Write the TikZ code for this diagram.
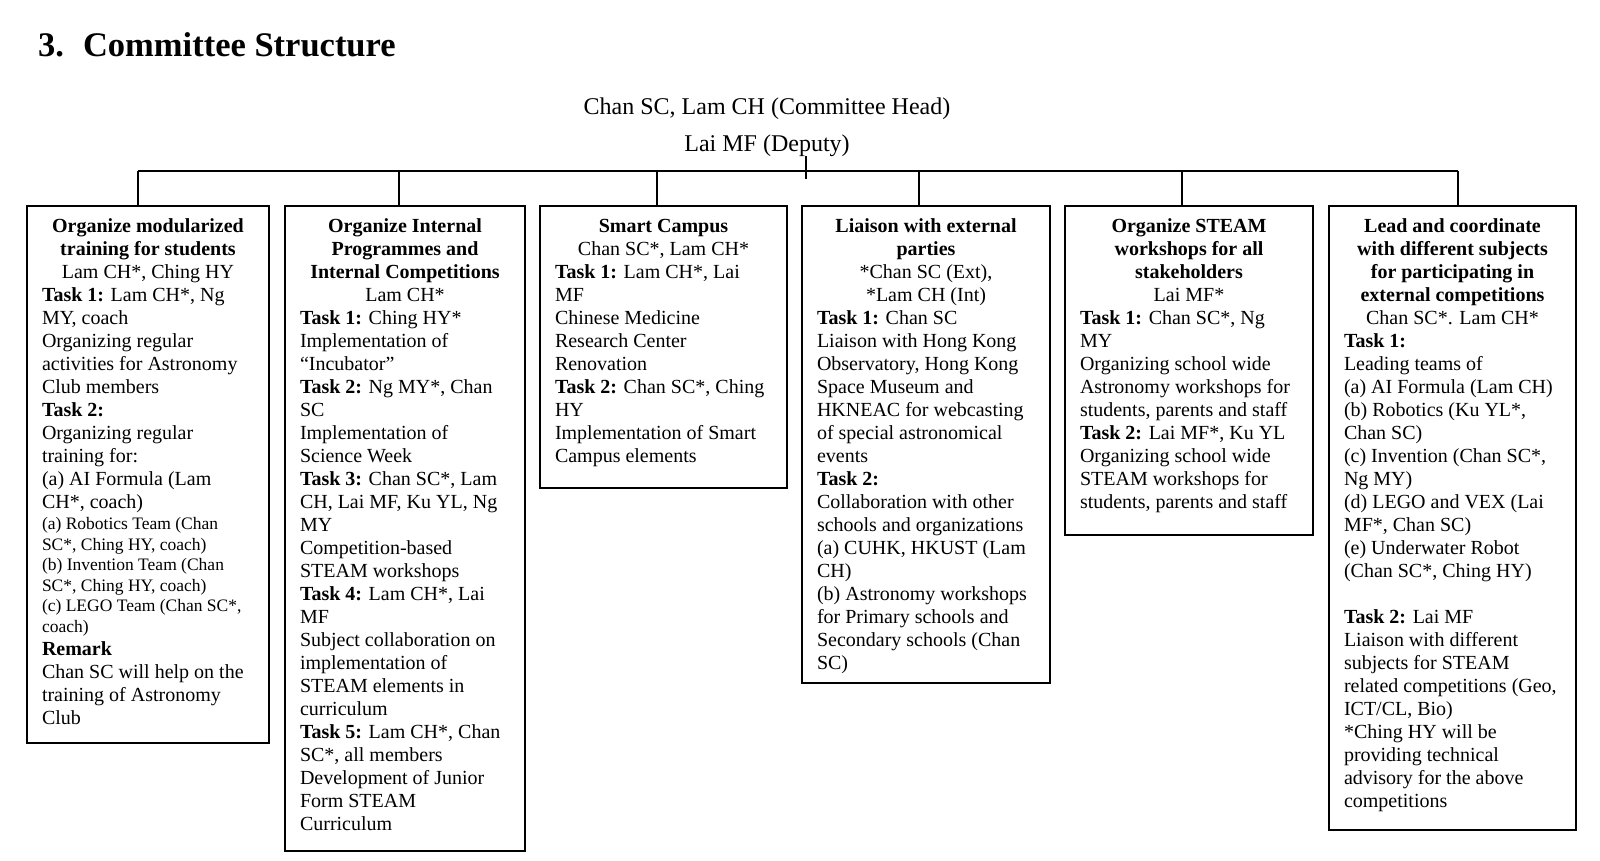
\documentclass[tikz,border=0pt]{standalone}
\usepackage{fontspec}
\setmainfont{Liberation Serif}
\newcommand{\bodysize}{\fontsize{20}{23}\selectfont}
\newcommand{\smallsize}{\fontsize{17.5}{20.6}\selectfont}
\newcommand{\tk}[1]{\textbf{Task #1:}}
\tikzset{
  orgbox/.style={draw, line width=1.1pt, inner xsep=15pt, inner ysep=13pt, outer sep=0pt, anchor=north west, font=\bodysize},
  link/.style={line width=1.1pt},
}
\newcommand{\orgnode}[6]{%
  \node[orgbox] (#1) at (#2,#3) {\parbox[t][\dimexpr#5pt-26pt\relax][t]{\dimexpr#4pt-30pt\relax}{#6}};}
\begin{document}
\begin{tikzpicture}[x=1pt,y=-1pt]
\useasboundingbox (0,0) rectangle (1600,860);

\node[anchor=base west, inner sep=0pt, font=\fontsize{34.5}{40}\selectfont\bfseries] (title) at (38,56) {3.\hspace{19pt}Committee Structure};

\node[anchor=base, inner sep=0pt, font=\fontsize{24}{28}\selectfont] (head) at (767,114) {Chan SC, Lam CH (Committee Head)};
\node[anchor=base, inner sep=0pt, font=\fontsize{24}{28}\selectfont] (deputy) at (767,151) {Lai MF (Deputy)};

\orgnode{b1}{27}{206}{242}{537}{%
\centering\textbf{Organize modularized\\training for students}\par
Lam CH*, Ching HY\par
\raggedright
\tk{1} Lam CH*, Ng\\
MY, coach\\
Organizing regular\\
activities for Astronomy\\
Club members\\
\tk{2}\\
Organizing regular\\
training for:\\
(a) AI Formula (Lam\\
CH*, coach)\par
{\smallsize (a) Robotics Team (Chan\\
SC*, Ching HY, coach)\\
(b) Invention Team (Chan\\
SC*, Ching HY, coach)\\
(c) LEGO Team (Chan SC*,\\
coach)\par}
\textbf{Remark}\\
Chan SC will help on the\\
training of Astronomy\\
Club\par}

\orgnode{b2}{285}{206}{240}{645}{%
\centering\textbf{Organize Internal\\Programmes and\\Internal Competitions}\par
Lam CH*\par
\raggedright
\tk{1} Ching HY*\\
Implementation of\\
“Incubator”\\
\tk{2} Ng MY*, Chan\\
SC\\
Implementation of\\
Science Week\\
\tk{3} Chan SC*, Lam\\
CH, Lai MF, Ku YL, Ng\\
MY\\
Competition-based\\
STEAM workshops\\
\tk{4} Lam CH*, Lai\\
MF\\
Subject collaboration on\\
implementation of\\
STEAM elements in\\
curriculum\\
\tk{5} Lam CH*, Chan\\
SC*, all members\\
Development of Junior\\
Form STEAM\\
Curriculum\par}

\orgnode{b3}{540}{206}{247}{282}{%
\centering\textbf{Smart Campus}\par
Chan SC*, Lam CH*\par
\raggedright
\tk{1} Lam CH*, Lai\\
MF\\
Chinese Medicine\\
Research Center\\
Renovation\\
\tk{2} Chan SC*, Ching\\
HY\\
Implementation of Smart\\
Campus elements\par}

\orgnode{b4}{802}{206}{248}{477}{%
\centering\textbf{Liaison with external\\parties}\par
*Chan SC (Ext),\\{}*Lam CH (Int)\par
\raggedright
\tk{1} Chan SC\\
Liaison with Hong Kong\\
Observatory, Hong Kong\\
Space Museum and\\
HKNEAC for webcasting\\
of special astronomical\\
events\\
\tk{2}\\
Collaboration with other\\
schools and organizations\\
(a) CUHK, HKUST (Lam\\
CH)\\
(b) Astronomy workshops\\
for Primary schools and\\
Secondary schools (Chan\\
SC)\par}

\orgnode{b5}{1065}{206}{248}{329}{%
\centering\textbf{Organize STEAM\\workshops for all\\stakeholders}\par
Lai MF*\par
\raggedright
\tk{1} Chan SC*, Ng\\
MY\\
Organizing school wide\\
Astronomy workshops for\\
students, parents and staff\\
\tk{2} Lai MF*, Ku YL\\
Organizing school wide\\
STEAM workshops for\\
students, parents and staff\par}

\orgnode{b6}{1329}{206}{247}{624}{%
\centering\textbf{Lead and coordinate\\with different subjects\\for participating in\\external competitions}\par
Chan SC*. Lam CH*\par
\raggedright
\tk{1}\\
Leading teams of\\
(a) AI Formula (Lam CH)\\
(b) Robotics (Ku YL*,\\
Chan SC)\\
(c) Invention (Chan SC*,\\
Ng MY)\\
(d) LEGO and VEX (Lai\\
MF*, Chan SC)\\
(e) Underwater Robot\\
(Chan SC*, Ching HY)\\
\mbox{}\\
\tk{2} Lai MF\\
Liaison with different\\
subjects for STEAM\\
related competitions (Geo,\\
ICT/CL, Bio)\\
{}*Ching HY will be\\
providing technical\\
advisory for the above\\
competitions\par}

% bar and connectors
\coordinate (c1) at (138,171);
\coordinate (c2) at (399,171);
\coordinate (c3) at (657,171);
\coordinate (c4) at (919,171);
\coordinate (c5) at (1182,171);
\coordinate (c6) at (1458,171);
\coordinate (top) at (806,156);
\coordinate (tickend) at (806,179);
\draw[link] (c1) -- (c6);
\draw[link] (top) -- (tickend);
\foreach \i in {1,...,6} \draw[link] (c\i) -- (c\i |- b\i.north);
\end{tikzpicture}
\end{document}
